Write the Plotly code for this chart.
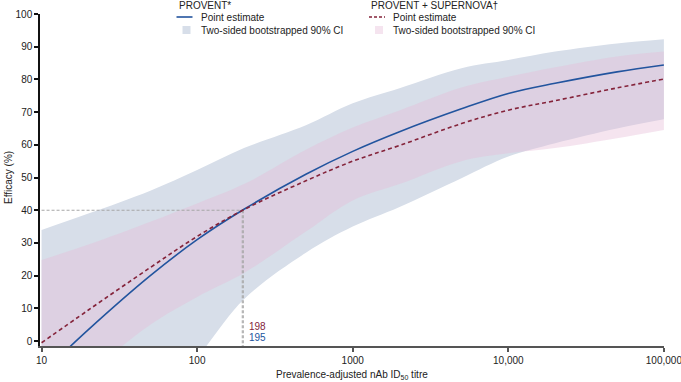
import math
import plotly.graph_objects as go

# ---------------- data ----------------
titre = [10, 20, 50, 100, 200, 500, 1000, 2000, 5000, 10000, 20000, 50000, 100000]

provent_pe = [-10, 3.5, 20, 31, 40.3, 51, 58, 64, 71, 75.7, 78.8, 82.3, 84.4]
provent_lo = [-45, -35, -20, -5, 12.8, 27, 35, 41, 49.8, 56.4, 60.5, 65, 67.8]
provent_hi = [34, 39, 46, 52.3, 59, 66, 72.7, 77.3, 83.4, 85.9, 88.5, 91, 92.3]

combo_pe = [-0.5, 9.5, 22.5, 32, 40.2, 49, 55, 59.8, 66.5, 70.6, 73.5, 77.4, 80.1]
combo_lo = [-22, -10, 5, 13.5, 20.8, 33.5, 43, 48, 55, 57.4, 59, 62, 64.5]
combo_hi = [24.8, 29.5, 36.5, 42.1, 48, 58.5, 65.3, 70.5, 77.5, 80.8, 83.7, 87, 88.5]

threshold_eff = 40
threshold_provent = 195
threshold_combo = 198

x_tickvals = [10, 100, 1000, 10000, 100000]
x_ticktext = ["10", "100", "1000", "10,000", "100,000"]
y_tickvals = [0, 10, 20, 30, 40, 50, 60, 70, 80, 90, 100]

# ---------------- style ----------------
BLUE = "#22549e"
RED = "#84233a"
BLUE_FILL = "#d7dee9"
PINK_FILL = "rgba(230,188,214,0.40)"
REF = "#a6a6a6"
FONT = "Arial, Liberation Sans, sans-serif"

W, H = 681, 382
L, R, T, B = 40, 17, 14, 36
PW, PH = W - L - R, H - T - B


def px(xp):
    return (xp - L) / PW


def py(yp):
    return (H - B - yp) / PH


fig = go.Figure()

# PROVENT CI band
fig.add_trace(go.Scatter(x=titre, y=provent_lo, mode="lines", line=dict(width=0, shape="spline"),
                         hoverinfo="skip", showlegend=False))
fig.add_trace(go.Scatter(x=titre, y=provent_hi, mode="lines", line=dict(width=0, shape="spline"),
                         fill="tonexty", fillcolor=BLUE_FILL, hoverinfo="skip",
                         showlegend=False))
# PROVENT + SUPERNOVA CI band
fig.add_trace(go.Scatter(x=titre, y=combo_lo, mode="lines", line=dict(width=0, shape="spline"),
                         hoverinfo="skip", showlegend=False))
fig.add_trace(go.Scatter(x=titre, y=combo_hi, mode="lines", line=dict(width=0, shape="spline"),
                         fill="tonexty", fillcolor=PINK_FILL, hoverinfo="skip",
                         showlegend=False))

# reference lines
fig.add_trace(go.Scatter(x=[titre[0], threshold_combo], y=[threshold_eff, threshold_eff],
                         mode="lines", line=dict(color=REF, width=1, dash="3px,2px"),
                         showlegend=False))
fig.add_trace(go.Scatter(x=[threshold_provent, threshold_provent], y=[threshold_eff, -1.5],
                         mode="lines", line=dict(color=REF, width=1, dash="3px,2px"),
                         showlegend=False))
fig.add_trace(go.Scatter(x=[threshold_combo, threshold_combo], y=[threshold_eff, -1.5],
                         mode="lines", line=dict(color=REF, width=1, dash="3px,2px"),
                         showlegend=False))

# point estimates
fig.add_trace(go.Scatter(x=titre, y=provent_pe, mode="lines",
                         line=dict(color=BLUE, width=1.6, shape="spline"), showlegend=False))
fig.add_trace(go.Scatter(x=titre, y=combo_pe, mode="lines",
                         line=dict(color=RED, width=1.6, dash="4px,3px", shape="spline"),
                         showlegend=False))

annotations = [
    dict(x=math.log10(threshold_combo), y=4.4, xref="x", yref="y", text=str(threshold_combo),
         showarrow=False, xanchor="left", xshift=4, font=dict(color=RED, size=10, family=FONT)),
    dict(x=math.log10(threshold_provent), y=1.1, xref="x", yref="y", text=str(threshold_provent),
         showarrow=False, xanchor="left", xshift=5, font=dict(color=BLUE, size=10, family=FONT)),
    # axis titles
    dict(x=px(352), y=py(375), xref="paper", yref="paper", showarrow=False,
         text="Prevalence-adjusted nAb ID<sub>50</sub> titre", xanchor="center",
         yanchor="middle", font=dict(size=10, family=FONT, color="#222")),
    dict(x=px(8), y=py(178), xref="paper", yref="paper", showarrow=False,
         text="Efficacy (%)", textangle=-90, xanchor="center", yanchor="middle",
         font=dict(size=10, family=FONT, color="#222")),
]

# manual legend
legend_font = dict(size=10, family=FONT, color="#222")
groups = [
    (176.5, "PROVENT*", BLUE, "solid", BLUE_FILL),
    (369, "PROVENT + SUPERNOVA\u2020", RED, "3px,2px", PINK_FILL),
]
shapes = []
for gx, title, lc, dash, fc in groups:
    annotations.append(dict(x=px(gx), y=py(5), xref="paper", yref="paper", text=title,
                            showarrow=False, xanchor="left", yanchor="middle", font=legend_font))
    shapes.append(dict(type="line", xref="paper", yref="paper", x0=px(gx), x1=px(gx + 16),
                       y0=py(17), y1=py(17), line=dict(color=lc, width=1.6, dash=dash)))
    annotations.append(dict(x=px(gx + 22), y=py(17), xref="paper", yref="paper",
                            text="Point estimate", showarrow=False, xanchor="left",
                            yanchor="middle", font=legend_font))
    shapes.append(dict(type="rect", xref="paper", yref="paper", x0=px(gx + 6), x1=px(gx + 14),
                       y0=py(26), y1=py(34), line=dict(width=0), fillcolor=fc))
    annotations.append(dict(x=px(gx + 22), y=py(30), xref="paper", yref="paper",
                            text="Two-sided bootstrapped 90% CI", showarrow=False,
                            xanchor="left", yanchor="middle", font=legend_font))

fig.update_layout(
    width=W, height=H,
    margin=dict(l=L, r=R, t=T, b=B, pad=0, autoexpand=False),
    paper_bgcolor="white", plot_bgcolor="white",
    font=dict(family=FONT, size=10, color="#222"),
    showlegend=False,
    annotations=annotations,
    shapes=shapes,
    xaxis=dict(type="log", range=[0.99, 5.0008], tickvals=x_tickvals, ticktext=x_ticktext,
               automargin=False, ticklabeloverflow="allow",
               showgrid=False, zeroline=False, showline=True, linecolor="#555", linewidth=2,
               ticks="outside", ticklen=4, tickwidth=1.5, tickcolor="#555",
               tickfont=dict(size=10, color="#222")),
    yaxis=dict(range=[-1.5, 100], tickvals=y_tickvals, showgrid=False, zeroline=False,
               automargin=False,
               showline=True, linecolor="#111", linewidth=1.5, ticks="outside", ticklen=4,
               tickwidth=1.5, tickcolor="#111", tickfont=dict(size=10, color="#222")),
)

fig.write_html("out.html")
